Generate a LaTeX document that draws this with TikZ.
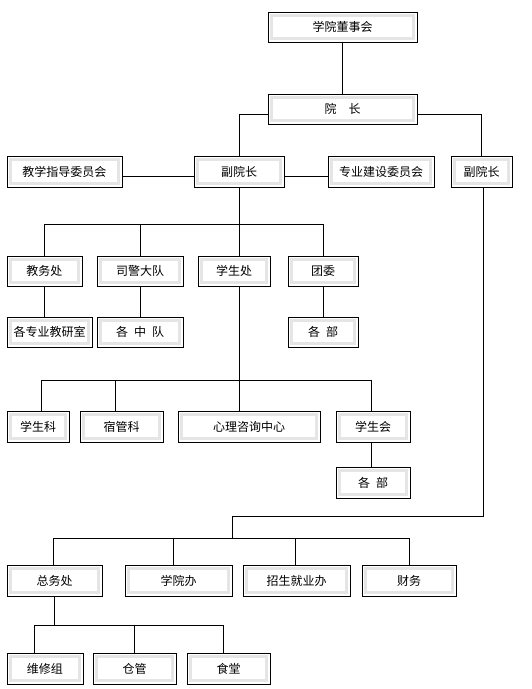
\documentclass[tikz,border=0pt]{standalone}
\usepackage{fontspec}
\setmainfont{Noto Sans CJK SC}
\tikzset{
  unit/.style={draw=black, line width=1pt, minimum height=30pt, inner sep=0pt,
    font=\fontsize{12pt}{14pt}\selectfont,
    path picture={\draw[black!10, line width=2.6pt]
      ([shift={(3.4pt,-3.4pt)}]path picture bounding box.north west) rectangle
      ([shift={(-3.4pt,3.4pt)}]path picture bounding box.south east);}},
  link/.style={line width=1pt}
}
\begin{document}
\begin{tikzpicture}[x=1pt, y=-1pt]
            \useasboundingbox (0,0) rectangle (531,689);
            % top
            \node[unit, minimum width=149pt] (dongshi) at (342.5,27) {学院董事会};
            \node[unit, minimum width=149pt] (yuanzhang) at (342.5,109) {院\hspace{1em}长};
            \node[unit, minimum width=115pt, minimum height=31pt] (jiaoxue) at (64.5,171.5) {教学指导委员会};
            \node[unit, minimum width=90pt, minimum height=31pt] (fuyuanA) at (239,171.5) {副院长};
            \node[unit, minimum width=106pt, minimum height=31pt] (zhuanye) at (381,171.5) {专业建设委员会};
            \node[unit, minimum width=61pt, minimum height=31pt] (fuyuanB) at (481.5,171.5) {副院长};
            % departments
            \node[unit, minimum width=75pt] (jiaowu) at (44.5,271) {教务处};
            \node[unit, minimum width=86pt] (sijing) at (140,271) {司警大队};
            \node[unit, minimum width=72pt] (xuesheng) at (234,271) {学生处};
            \node[unit, minimum width=70pt] (tuanwei) at (323,271) {团委};
            \node[unit, minimum width=85pt] (jiaoyan) at (49.5,332) {各专业教研室};
            \node[unit, minimum width=86pt] (zhongdui) at (140,332) {各\hspace{0.5em}中\hspace{0.5em}队};
            \node[unit, minimum width=70pt] (bumenA) at (323,332) {各\hspace{0.5em}部};
            % student office
            \node[unit, minimum width=62pt, minimum height=31pt] (xsk) at (38,426.5) {学生科};
            \node[unit, minimum width=83pt, minimum height=31pt] (sgk) at (121.5,426.5) {宿管科};
            \node[unit, minimum width=142pt, minimum height=31pt] (xinli) at (249,426.5) {心理咨询中心};
            \node[unit, minimum width=74pt, minimum height=31pt] (xsh) at (373,426.5) {学生会};
            \node[unit, minimum width=74pt, minimum height=31pt] (bumenB) at (373,482.5) {各\hspace{0.5em}部};
            % second vice president
            \node[unit, minimum width=95pt, minimum height=31pt] (zongwu) at (54.5,580.5) {总务处};
            \node[unit, minimum width=107pt, minimum height=31pt] (xyb) at (178.5,580.5) {学院办};
            \node[unit, minimum width=107pt, minimum height=31pt] (zsjy) at (296.5,580.5) {招生就业办};
            \node[unit, minimum width=94pt, minimum height=31pt] (caiwu) at (409,580.5) {财务};
            \node[unit, minimum width=76pt, minimum height=31pt] (wxz) at (45,668.5) {维修组};
            \node[unit, minimum width=83pt, minimum height=31pt] (cangguan) at (134.5,668.5) {仓管};
            \node[unit, minimum width=83pt, minimum height=31pt] (shitang) at (228.5,668.5) {食堂};
            % connectors
            \draw[link] (dongshi) -- (yuanzhang);
            \draw[link] ([yshift=-5pt]yuanzhang.west) -| (fuyuanA.north);
            \draw[link] ([yshift=-5pt]yuanzhang.east) -| (fuyuanB.north);
            \draw[link] ([yshift=-5pt]jiaoxue.east) -- ([yshift=-5pt]fuyuanA.west);
            \draw[link] ([yshift=-5pt]fuyuanA.east) -- ([yshift=-5pt]zhuanye.west);
            \coordinate (busA) at (239,224);
            \draw[link] (fuyuanA.south) -- (busA);
            \draw[link] (busA) -| (jiaowu.north);
            \draw[link] (busA) -| (sijing.north);
            \draw[link] (busA) -| (tuanwei.north);
            \draw[link] (busA) -- (busA |- xuesheng.north);
            \draw[link] (jiaowu.south) -- (jiaowu.south |- jiaoyan.north);
            \draw[link] (sijing) -- (zhongdui);
            \draw[link] (tuanwei) -- (bumenA);
            \coordinate (busB) at (239,380);
            \draw[link] (busA |- xuesheng.south) -- (busB);
            \draw[link] (busB) -| ([xshift=3pt]xsk.north);
            \draw[link] (busB) -| ([xshift=-6.5pt]sgk.north);
            \draw[link] (busB) -- (busB |- xinli.north);
            \draw[link] (busB) -| ([xshift=-2pt]xsh.north);
            \draw[link] ([xshift=-2pt]xsh.south) -- ([xshift=-2pt]bumenB.north);
            \coordinate (busC) at (232,516);
            \coordinate (busD) at (232,538);
            \draw[link] ([xshift=1.5pt]fuyuanB.south) |- (busC) -- (busD);
            \draw[link] (busD) -| ([xshift=-1.5pt]zongwu.north);
            \draw[link] (busD) -| ([xshift=-5.5pt]xyb.north);
            \draw[link] (busD) -| ([xshift=-1.5pt]zsjy.north);
            \draw[link] (busD) -| (caiwu.north);
            \coordinate (busE) at (54.5,625);
            \draw[link] (zongwu.south) -- (busE);
            \draw[link] (busE) -| ([xshift=-11pt]wxz.north);
            \draw[link] (busE) -| (cangguan.north);
            \draw[link] (busE) -| ([xshift=-5.5pt]shitang.north);
        \end{tikzpicture}
\end{document}
